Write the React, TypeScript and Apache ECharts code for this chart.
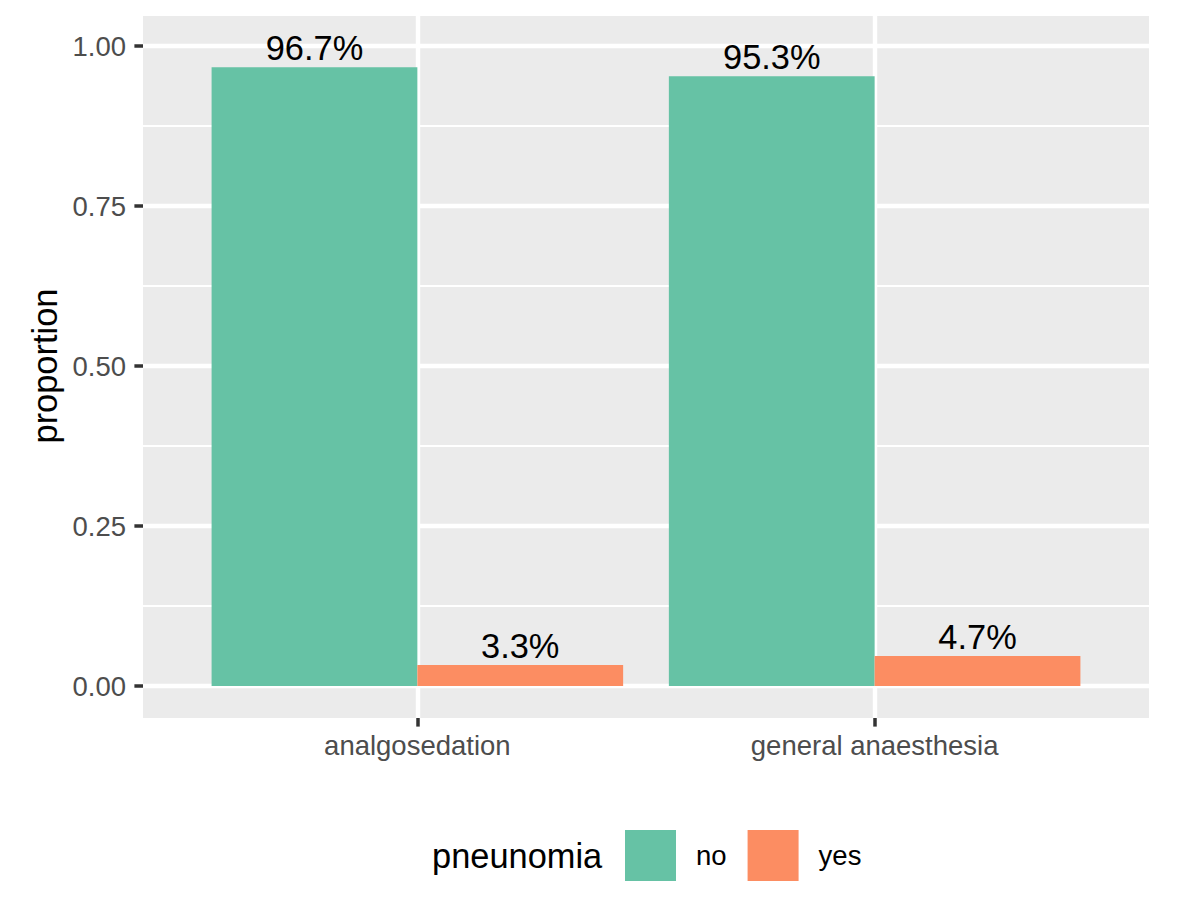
import React, { useEffect, useRef } from "react";
import * as echarts from "echarts";

const categories = ["analgosedation", "general anaesthesia"];
const seriesNames = ["no", "yes"];
const valuesNo = [0.967, 0.953];
const valuesYes = [0.033, 0.047];
const yTicks = [0, 0.25, 0.5, 0.75, 1.0];
const colors = ["#66C2A5", "#FC8D62"];

const FONT = "'Liberation Sans', Arial, Helvetica, sans-serif";

export default function App() {
  const ref = useRef<HTMLDivElement>(null);
  useEffect(() => {
    if (!ref.current) return;
    const chart = echarts.init(ref.current, undefined, { renderer: "svg" });
    const panel = { left: 143, top: 16, width: 1006, height: 702 };
    const yMin = -0.05;
    const yMax = 1.047;
    const pxPerUnit = panel.height / (yMax - yMin);
    const y1 = panel.top + (yMax - 1) * pxPerUnit;
    const xUnit = panel.width / 2.2;
    const labelFmt = (p: any) => (p.value * 100).toFixed(1) + "%";
    const barLabel = {
      show: true,
      position: "top",
      distance: 2,
      color: "#000",
      fontSize: 34.4,
      fontFamily: FONT,
      formatter: labelFmt,
    };
    chart.setOption({
      animation: false,
      textStyle: { fontFamily: FONT },
      grid: [
        {
          ...panel,
          show: true,
          backgroundColor: "#EBEBEB",
          borderWidth: 0,
          z: -1,
        },
        {
          left: panel.left,
          width: panel.width,
          top: y1,
          height: pxPerUnit,
        },
        {
          left: panel.left + 0.6 * xUnit,
          width: xUnit,
          top: panel.top,
          height: panel.height,
        },
      ],
      xAxis: [
        { type: "value", gridIndex: 0, show: false, min: 0, max: 1 },
        { type: "value", gridIndex: 1, show: false, min: 0, max: 1 },
        {
          type: "category",
          gridIndex: 2,
          position: "bottom",
          data: categories,
          boundaryGap: false,
          axisLine: { show: false, onZero: false },
          axisTick: {
            show: true,
            length: 8.6,
            lineStyle: { color: "#333333", width: 3.5 },
          },
          axisLabel: {
            color: "#4D4D4D",
            fontSize: 27.5,
            fontFamily: FONT,
            margin: 13,
          },
          splitLine: {
            show: true,
            lineStyle: { color: "#FFFFFF", width: 4.4 },
          },
        },
      ],
      yAxis: [
        { type: "value", gridIndex: 0, show: false, min: 0, max: 1 },
        {
          type: "value",
          gridIndex: 1,
          min: 0,
          max: 1,
          interval: 0.25,
          name: "proportion",
          nameLocation: "middle",
          nameGap: 80,
          nameTextStyle: { color: "#000", fontSize: 34.4, fontFamily: FONT },
          axisLine: { show: false },
          axisTick: {
            show: true,
            length: 8.6,
            lineStyle: { color: "#333333", width: 3.5 },
          },
          axisLabel: {
            color: "#4D4D4D",
            fontSize: 27.5,
            fontFamily: FONT,
            margin: 17,
            customValues: yTicks,
            formatter: (v: number) => v.toFixed(2),
          },
          splitLine: { show: true, lineStyle: { color: "#FFFFFF", width: 4.4 } },
          minorTick: { show: false, splitNumber: 2 },
          minorSplitLine: {
            show: true,
            lineStyle: { color: "#FFFFFF", width: 2.2 },
          },
        },
        { type: "value", gridIndex: 2, show: false, min: yMin, max: yMax },
      ],
      legend: {
        data: seriesNames,
        left: 620,
        top: 825,
        orient: "horizontal",
        icon: "rect",
        itemWidth: 51,
        itemHeight: 51,
        itemGap: 21,
        formatter: (name: string) => `{t|${name}}`,
        textStyle: {
          color: "#000",
          fontSize: 27.5,
          fontFamily: FONT,
          rich: {
            t: {
              fontSize: 27.5,
              fontFamily: FONT,
              color: "#000",
              padding: [0, 0, 0, 15],
            },
          },
        },
      },
      graphic: [
        {
          type: "text",
          left: 432,
          top: 839,
          style: {
            text: "pneunomia",
            fontSize: 34.4,
            fontFamily: FONT,
            fill: "#000",
          },
        },
      ],
      series: [
        {
          name: seriesNames[0],
          type: "bar",
          xAxisIndex: 2,
          yAxisIndex: 2,
          data: valuesNo,
          barCategoryGap: "10%",
          barGap: "0%",
          clip: false,
          itemStyle: { color: colors[0] },
          label: barLabel,
        },
        {
          name: seriesNames[1],
          type: "bar",
          xAxisIndex: 2,
          yAxisIndex: 2,
          data: valuesYes,
          barCategoryGap: "10%",
          barGap: "0%",
          clip: false,
          itemStyle: { color: colors[1] },
          label: barLabel,
        },
      ],
    });
    return () => chart.dispose();
  }, []);
  return (
    <div
      ref={ref}
      style={{ position: "fixed", left: 0, top: 0, width: 1200, height: 898, background: "#fff" }}
    />
  );
}
